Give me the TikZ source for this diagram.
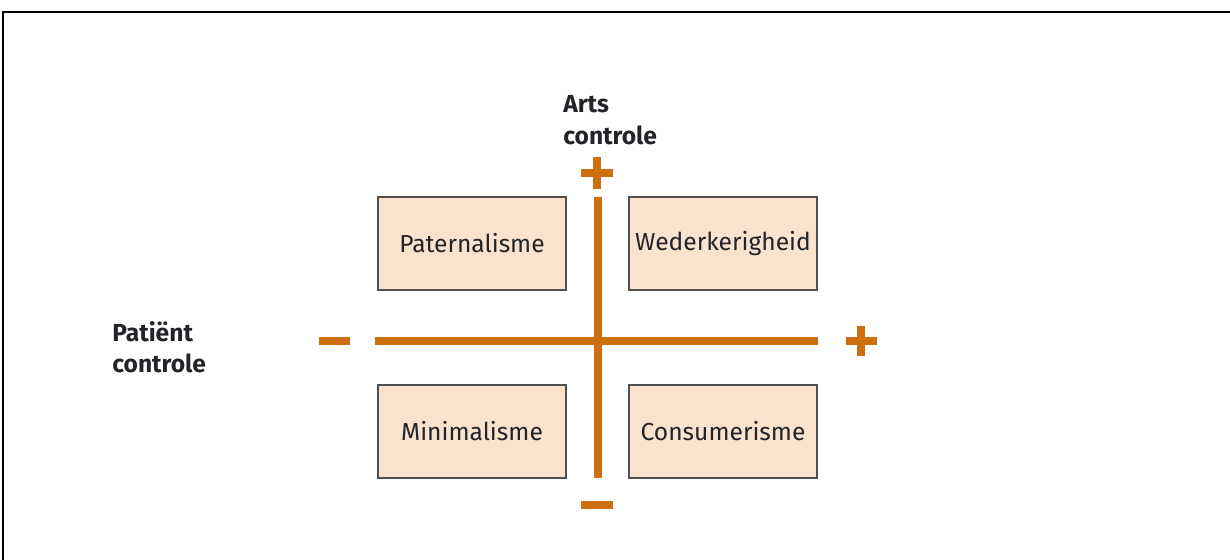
\documentclass[tikz,border=0pt]{standalone}
\usepackage{fontspec}
\setmainfont{Fira Sans}
\usetikzlibrary{positioning}
\definecolor{axisorange}{RGB}{204,110,12}
\definecolor{boxfill}{RGB}{250,227,206}
\definecolor{boxline}{RGB}{80,80,80}
\definecolor{txt}{RGB}{35,35,40}
\tikzset{
	quadrant/.style={draw=boxline, fill=boxfill, line width=0.9pt, minimum width=3.76cm, minimum height=1.86cm, inner sep=0pt, font=\fontsize{14}{16}\selectfont, text=txt},
	axisline/.style={draw=axisorange, line width=4.6pt},
	signbar/.style={draw=axisorange, line width=4.4pt},
	axislabel/.style={align=left, inner sep=0pt, font=\bfseries\fontsize{14}{18}\selectfont, text=txt},
}

\begin{document}
\begin{tikzpicture}[x=0.02cm, y=-0.02cm]
	\useasboundingbox (0,0) rectangle (1230,560);
	% frame
	\draw[line width=1pt] (3,560) -- (3,12) -- (1230,12);

	% axes
	\coordinate (vtop) at (598,197);
	\coordinate (vbot) at (598,478);
	\coordinate (hleft) at (375,341);
	\coordinate (hright) at (818,341);
	\draw[axisline] (vtop) -- (vbot);
	\draw[axisline] (hleft) -- (hright);

	% plus and minus signs
	\coordinate (topplus) at (597,173);
	\coordinate (rightplus) at (861,341);
	\coordinate (leftminus) at (334.5,341);
	\coordinate (botminus) at (597,505);
	\draw[signbar] ([xshift=-0.32cm]topplus) -- ([xshift=0.32cm]topplus);
	\draw[signbar] ([yshift=0.32cm]topplus) -- ([yshift=-0.32cm]topplus);
	\draw[signbar] ([xshift=-0.31cm]rightplus) -- ([xshift=0.31cm]rightplus);
	\draw[signbar] ([yshift=0.31cm]rightplus) -- ([yshift=-0.31cm]rightplus);
	\draw[signbar] ([xshift=-0.31cm]leftminus) -- ([xshift=0.31cm]leftminus);
	\draw[signbar] ([xshift=-0.32cm]botminus) -- ([xshift=0.32cm]botminus);

	% quadrants
	\node[quadrant] (pat) at (472,243.5) {Paternalisme};
	\node[quadrant] (wed) at (723,243.5) {Wederkerigheid};
	\node[quadrant] (min) at (472,431.5) {Minimalisme};
	\node[quadrant] (con) at (723,431.5) {Consumerisme};

	% axis labels
	\node[axislabel, anchor=north west] (arts) at (563,95) {Arts\\controle};
	\node[axislabel, anchor=north west] (pat-label) at (112,321) {Patiënt\\controle};
\end{tikzpicture}
\end{document}
